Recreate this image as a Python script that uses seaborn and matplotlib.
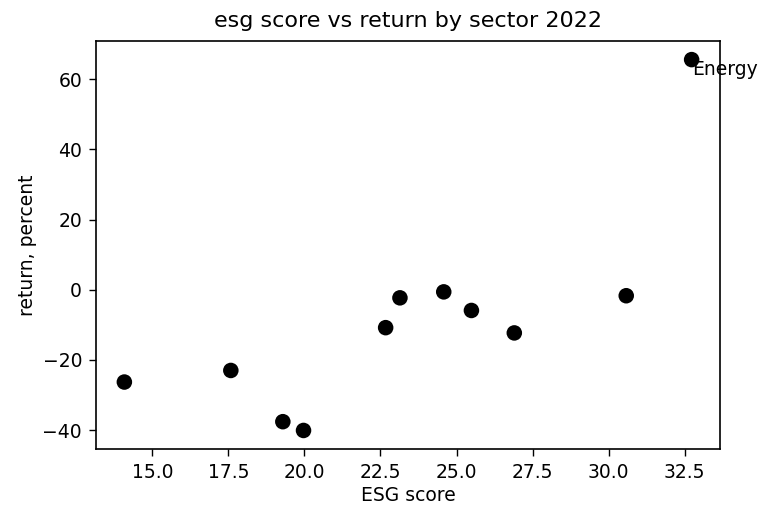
import matplotlib
matplotlib.use("Agg")
import matplotlib.pyplot as plt
import seaborn as sns
import pandas as pd

# ESG score and 2022 return (percent) per sector
esg_score = [14.08, 17.58, 19.29, 19.97, 22.67, 23.14, 24.58, 25.49, 26.90, 30.58, 32.73]
return_pct = [-26.3, -23.0, -37.6, -40.1, -10.8, -2.3, -0.6, -5.9, -12.3, -1.7, 65.6]
labelled_sector = "Energy"
labelled_index = 10

df = pd.DataFrame({"ESG score": esg_score, "return, percent": return_pct})

sns.set_style("ticks")
plt.rcParams["font.family"] = ["DejaVu Sans"]
plt.rcParams["text.color"] = "black"
plt.rcParams["axes.labelcolor"] = "black"
plt.rcParams["xtick.color"] = "black"
plt.rcParams["ytick.color"] = "black"

fig = plt.figure(figsize=(7.68, 5.07), dpi=100)
ax = fig.add_axes([0.125, 0.1144, 0.8125, 0.8046])

sns.scatterplot(data=df, x="ESG score", y="return, percent", ax=ax,
                color="black", s=125, edgecolor="none", linewidth=0)

ax.text(esg_score[labelled_index], return_pct[labelled_index], labelled_sector,
        ha="left", va="top", fontsize=13.5, color="black")

ax.set_title("esg score vs return by sector 2022", fontsize=16, pad=10)
ax.set_xlabel("ESG score", fontsize=13.5, labelpad=3)
ax.set_ylabel("return, percent", fontsize=13.5, labelpad=4)
ax.tick_params(labelsize=13.5, length=5, width=1, color="black", pad=5)
for sp in ax.spines.values():
    sp.set_color("black")
    sp.set_linewidth(1.2)

fig.savefig("out.png", dpi=100)
